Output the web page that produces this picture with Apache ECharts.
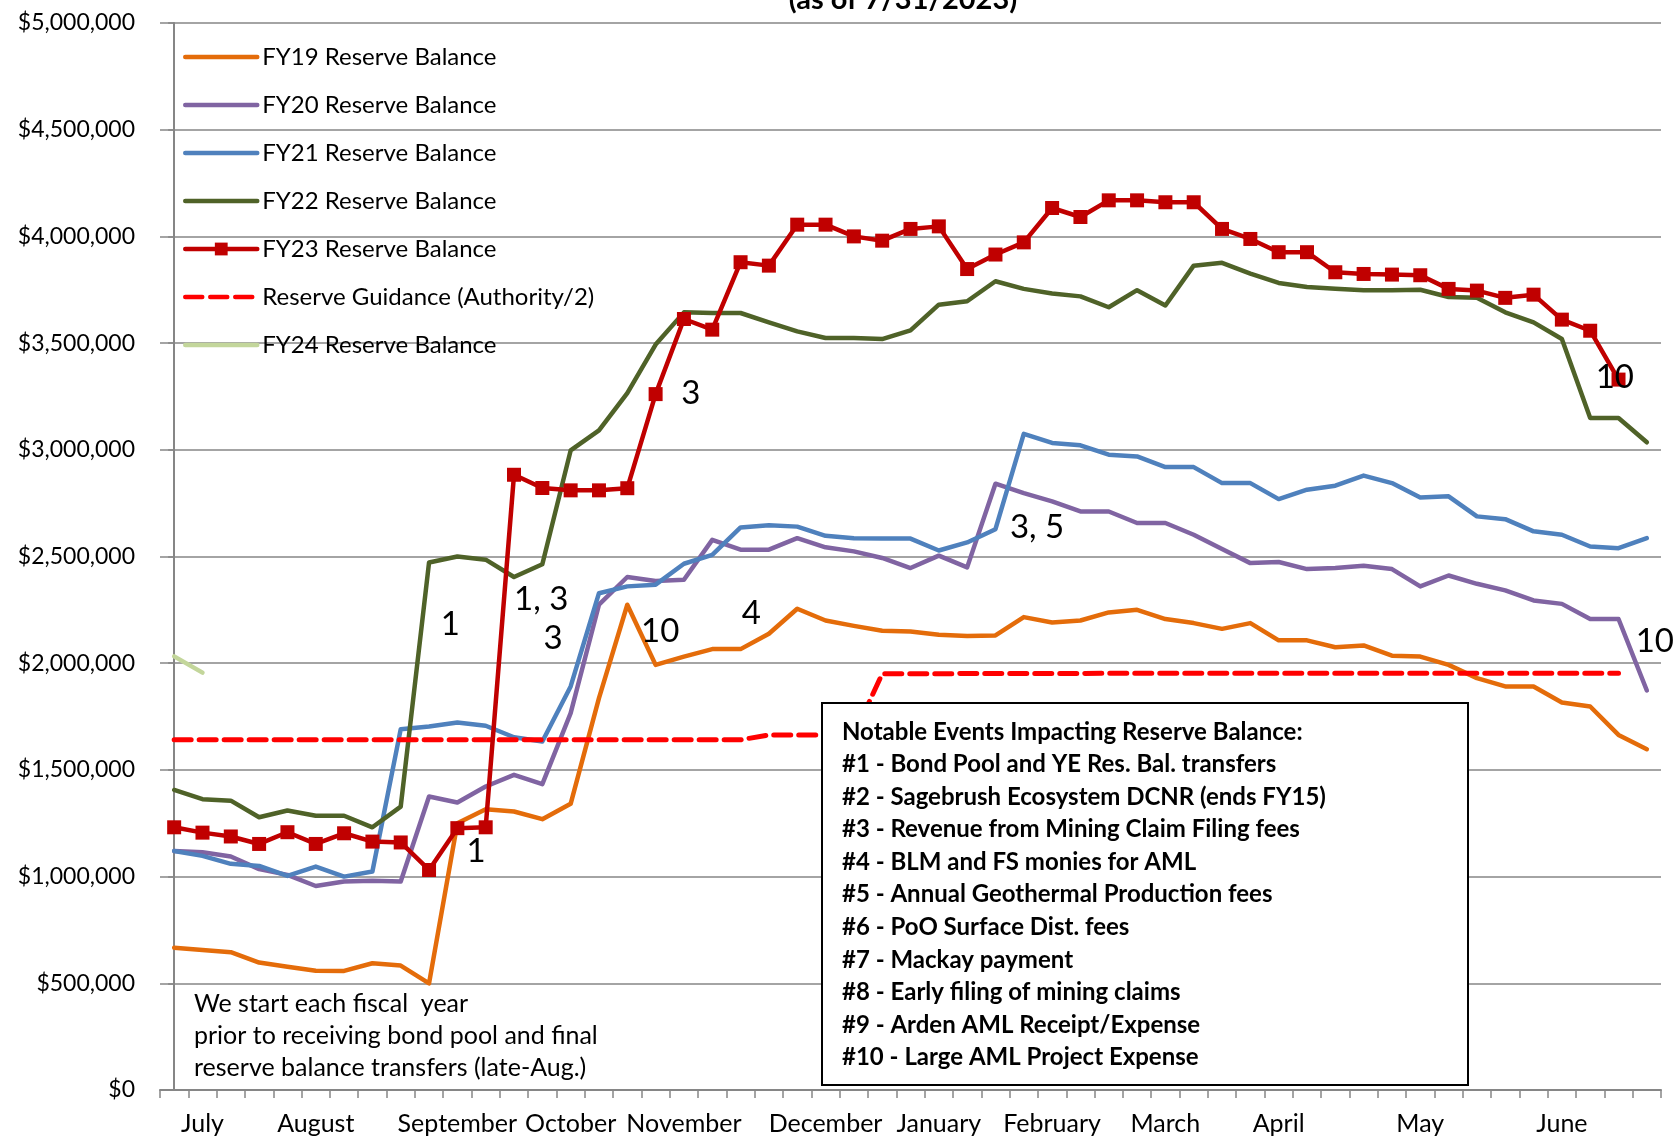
<!DOCTYPE html>
<html><head><meta charset="utf-8">
<script src="https://cdn.jsdelivr.net/npm/echarts@6/dist/echarts.min.js"></script>
<style>html,body{margin:0;padding:0;background:#fff}#c{width:1676px;height:1138px}</style>
</head><body><div id="c"></div>
<script>
const categories = ['', 'July', '', '', '', 'August', '', '', '', '', 'September', '', '', '', 'October', '', '', '', 'November', '', '', '', '', 'December', '', '', '', 'January', '', '', '', 'February', '', '', '', 'March', '', '', '', 'April', '', '', '', '', 'May', '', '', '', '', 'June', '', '', ''];

const fy19 = [667000,656000,646000,597000,578000,559000,558000,594000,583000,500000,1250000,1316000,1305000,1269000,1341000,1836000,2274000,1992000,2031000,2066000,2066000,2138000,2255000,2200000,2175000,2152000,2149000,2133000,2128000,2130000,2216000,2191000,2200000,2238000,2250000,2207000,2188000,2161000,2188000,2107000,2107000,2075000,2083000,2035000,2031000,1992000,1930000,1891000,1891000,1816000,1797000,1664000,1597000];
const fy20 = [1120000,1114000,1094000,1035000,1008000,956000,977000,980000,977000,1375000,1347000,1422000,1477000,1433000,1766000,2274000,2404000,2385000,2391000,2578000,2532000,2532000,2586000,2543000,2524000,2493000,2446000,2504000,2449000,2841000,2797000,2758000,2711000,2711000,2657000,2657000,2602000,2535000,2469000,2474000,2441000,2446000,2457000,2441000,2360000,2411000,2372000,2341000,2294000,2278000,2207000,2207000,1872000];
const fy21 = [1120000,1097000,1060000,1050000,1003000,1047000,1000000,1024000,1691000,1703000,1722000,1707000,1653000,1633000,1891000,2328000,2360000,2368000,2466000,2508000,2636000,2646000,2640000,2597000,2586000,2584000,2584000,2528000,2566000,2628000,3075000,3032000,3021000,2977000,2969000,2919000,2919000,2844000,2844000,2769000,2813000,2832000,2879000,2844000,2777000,2782000,2688000,2675000,2618000,2602000,2547000,2539000,2586000];
const fy22 = [1406000,1363000,1356000,1278000,1310000,1285000,1285000,1231000,1328000,2472000,2500000,2485000,2404000,2464000,2997000,3091000,3266000,3493000,3644000,3641000,3641000,3597000,3555000,3524000,3524000,3519000,3560000,3680000,3696000,3790000,3754000,3732000,3719000,3668000,3748000,3676000,3863000,3876000,3826000,3782000,3763000,3755000,3748000,3748000,3750000,3716000,3712000,3644000,3597000,3519000,3149000,3149000,3035000];
const fy23 = [1231000,1206000,1188000,1153000,1208000,1153000,1203000,1164000,1160000,1031000,1227000,1231000,2883000,2821000,2810000,2810000,2820000,3261000,3613000,3563000,3879000,3863000,4055000,4055000,4000000,3980000,4035000,4047000,3847000,3915000,3972000,4133000,4091000,4169000,4169000,4160000,4160000,4035000,3988000,3926000,3926000,3832000,3824000,3821000,3818000,3754000,3746000,3712000,3727000,3610000,3558000,3329000,null];
const guidance = [1641000,1641000,1641000,1641000,1641000,1641000,1641000,1641000,1641000,1641000,1641000,1641000,1641000,1641000,1641000,1641000,1641000,1641000,1641000,1641000,1641000,1664000,1664000,1664000,1664000,1950000,1950000,1950000,1952000,1952000,1952000,1952000,1952000,1953000,1953000,1953000,1953000,1953000,1953000,1953000,1953000,1953000,1953000,1953000,1953000,1953000,1953000,1953000,1953000,1953000,1953000,1953000,null];
const fy24 = [2032000,1956000];

const seriesNames = ['FY19 Reserve Balance','FY20 Reserve Balance','FY21 Reserve Balance','FY22 Reserve Balance','FY23 Reserve Balance','Reserve Guidance (Authority/2)','FY24 Reserve Balance'];

const annoText = ['1','1, 3','3','10','3','4','3, 5','10','10','1'];
const annoX = [9.75,12.96,13.38,17.16,18.24,20.38,30.47,50.87,52.28,10.66];
const annoY = [2180000,2300000,2115000,2150000,3266000,2235000,2636000,3341000,2104000,1116000];

const notesTitle = 'Notable Events Impacting Reserve Balance:';
const notesLines = ['#1 - Bond Pool and YE Res. Bal. transfers','#2 - Sagebrush Ecosystem DCNR (ends FY15)','#3 - Revenue from Mining Claim Filing fees','#4 - BLM and FS monies for AML','#5 - Annual Geothermal Production fees','#6 - PoO Surface Dist. fees','#7 - Mackay payment','#8 - Early filing of mining claims','#9 - Arden AML Receipt/Expense','#10 - Large AML Project Expense'];
const startNote = ['We start each fiscal  year','prior to receiving bond pool and final','reserve balance transfers (late-Aug.)'];
const subTitle = '(as of 7/31/2023)';

const FONT = 'Lato, "Open Sans", sans-serif';
const colors = ['#E46C0A','#8064A2','#4F81BD','#4F6228','#C00000','#FF0000','#C3D69B'];
const lineData = [fy19, fy20, fy21, fy22, fy23, guidance, fy24];

const chart = echarts.init(document.getElementById('c'), null, {renderer:'canvas'});

const series = lineData.map((d, k) => {
  const s = {
    name: seriesNames[k], type: 'line', data: d, xAxisIndex: 0, yAxisIndex: 0,
    symbol: 'none', smooth: false, connectNulls: false,
    lineStyle: {color: colors[k], width: 4.5, cap: 'round', join: 'round'},
    itemStyle: {color: colors[k]},
    z: 2 + k
  };
  if (k === 4) { s.symbol = 'rect'; s.symbolSize = 14; s.showSymbol = true; s.z = 9; }
  if (k === 5) { s.lineStyle.type = [17, 8]; s.lineStyle.width = 5; s.z = 8; }
  return s;
});
series.push({
  name: 'annotations', type: 'scatter', xAxisIndex: 1, yAxisIndex: 0,
  symbol: 'circle', symbolSize: 1, itemStyle: {color: 'rgba(0,0,0,0)'}, silent: true, z: 20,
  data: annoText.map((t, i) => ({name: t, value: [annoX[i], annoY[i]]})),
  label: {show: true, position: 'inside', formatter: '{b}', color: '#000', opacity: 1, textBorderWidth: 0, fontSize: 33, fontFamily: FONT}
});

const graphics = [];
graphics.push({type:'text', z: 50,
  style: {text: subTitle, x: 903, y: 0, align: 'center', verticalAlign: 'middle', font: 'bold 29px ' + FONT, fill: '#000'}});
graphics.push({type:'rect', z: 100, shape: {x: 822, y: 703, width: 646, height: 382},
  style: {fill: '#fff', stroke: '#000', lineWidth: 2}});
[notesTitle].concat(notesLines).forEach((t, i) => {
  graphics.push({type:'text', z: 101, style: {text: t, x: 842, y: 732 + 32.55 * i, align: 'left', verticalAlign: 'middle', font: 'bold 24px ' + FONT, fill: '#000'}});
});
startNote.forEach((t, i) => {
  graphics.push({type:'text', z: 101, style: {text: t, x: 194, y: 1004 + 32.2 * i, align: 'left', verticalAlign: 'middle', font: '25px ' + FONT, fill: '#000'}});
});

const legendData = seriesNames.map((n, k) => k === 4 ? {name: n} : {name: n, itemStyle: {opacity: 0}});

chart.setOption({
  animation: false,
  backgroundColor: '#fff',
  textStyle: {fontFamily: FONT},
  grid: {left: 160, right: 15, top: 23, bottom: 48, containLabel: false},
  legend: {
    data: legendData, orient: 'vertical', left: 183, top: 43, padding: 0, itemWidth: 72, itemHeight: 16, itemGap: 20,
    selectedMode: false,
    lineStyle: {width: 4.5},
    textStyle: {fontSize: 24, color: '#000', fontFamily: FONT, lineHeight: 28}
  },
  xAxis: [{
    type: 'category', data: categories, boundaryGap: true,
    axisLine: {show: true, lineStyle: {color: '#868686', width: 2}},
    axisTick: {show: true, interval: 0, length: 8, lineStyle: {color: '#868686', width: 1.5}},
    axisLabel: {interval: 0, margin: 21, color: '#000', fontSize: 25, fontFamily: FONT},
    splitLine: {show: false}
  }, {
    type: 'value', min: -0.5, max: 52.5, show: false
  }],
  yAxis: {
    type: 'value', min: 0, max: 5000000, interval: 500000,
    axisLine: {show: true, lineStyle: {color: '#868686', width: 2}},
    axisTick: {show: true, length: 6, lineStyle: {color: '#868686', width: 1.5}},
    axisLabel: {margin: 25, color: '#000', fontSize: 23, fontFamily: FONT,
      formatter: v => '$' + v.toLocaleString('en-US')},
    splitLine: {show: true, lineStyle: {color: '#868686', width: 1.5}}
  },
  series: series,
  graphic: graphics
});
</script></body></html>
